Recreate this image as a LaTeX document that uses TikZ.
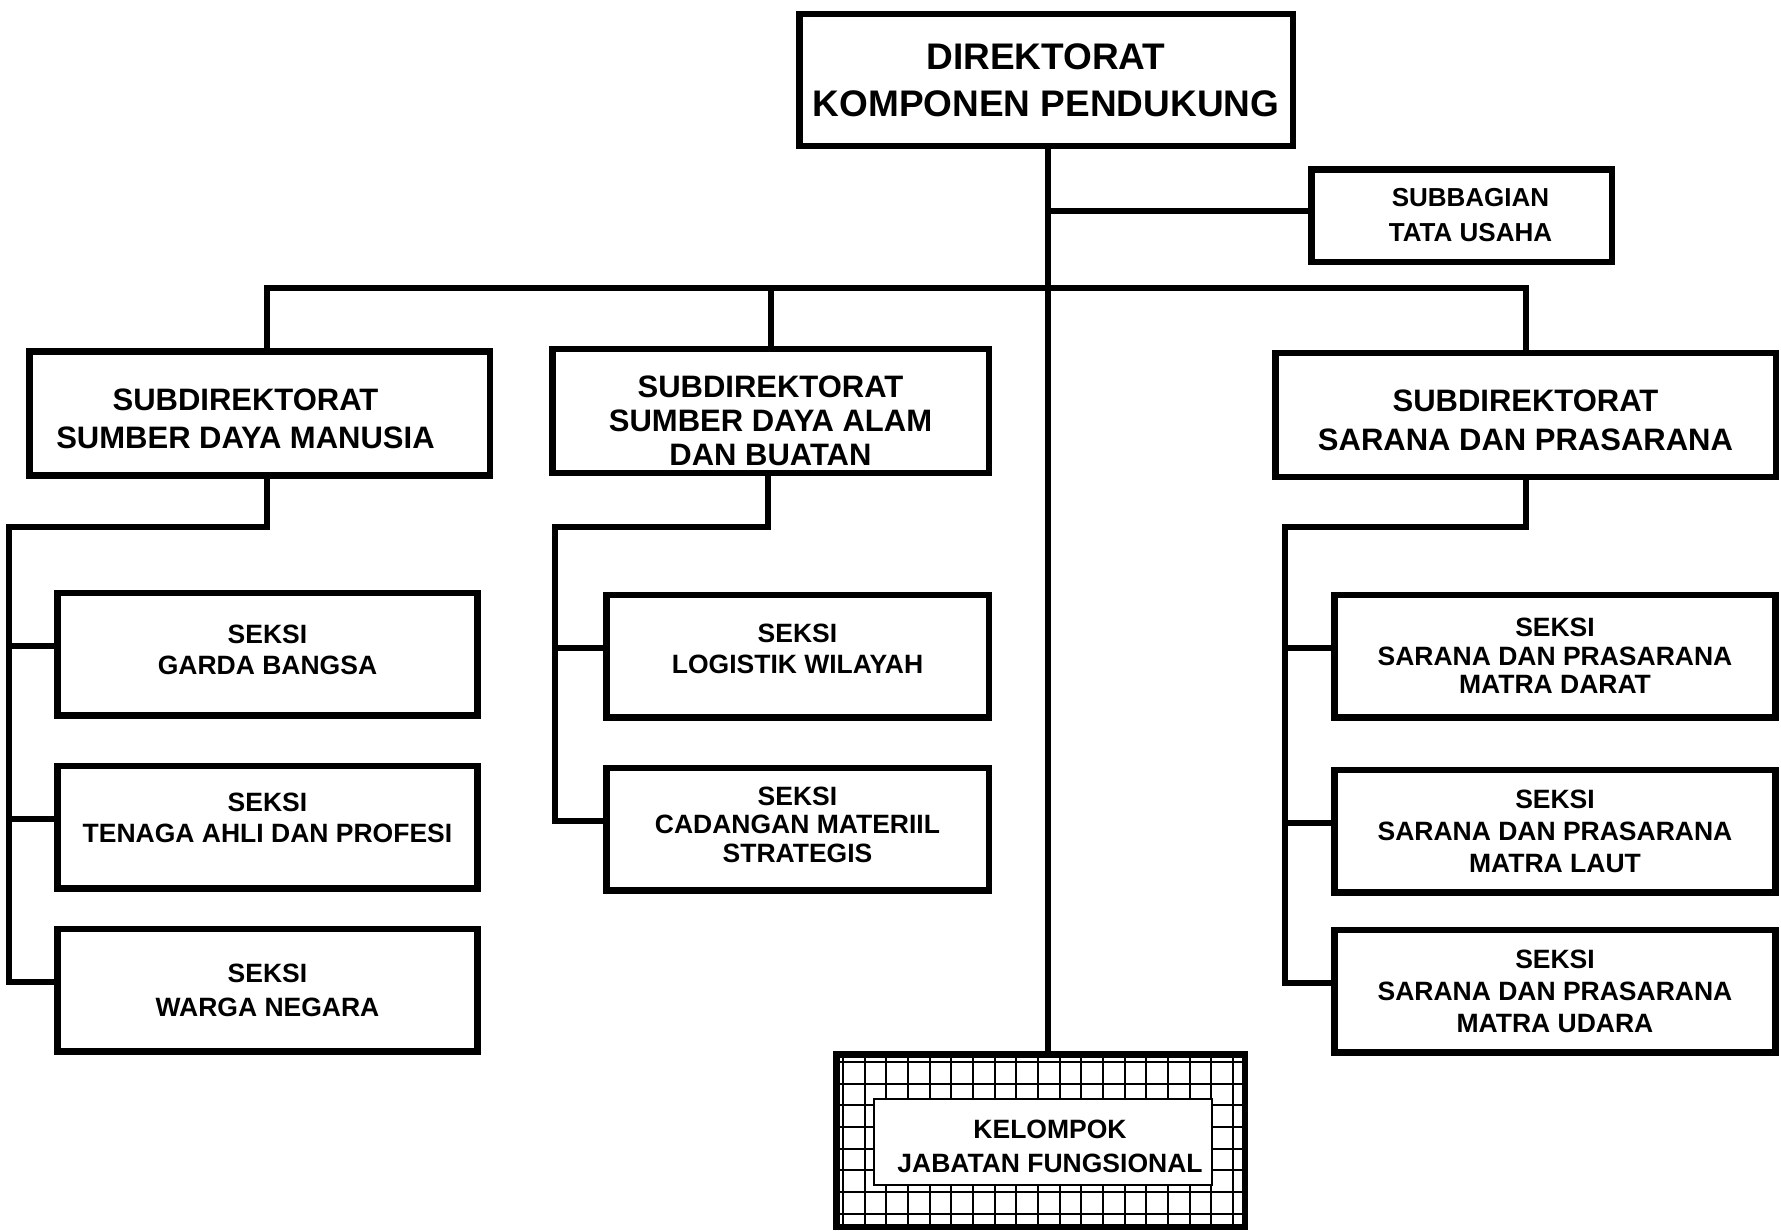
\documentclass[tikz,border=0pt]{standalone}
\usepackage{fontspec}
\setmainfont{Liberation Sans}
\usepackage{tikz}
\usetikzlibrary{positioning, calc}

\newcommand{\padtop}[1]{\rule{0pt}{#1}}
\newcommand{\padbottom}[1]{\rule[-#1]{0pt}{0pt}}

\begin{document}
\begin{tikzpicture}[
  x = 1pt, y = -1pt,
  box/.style = {draw, rectangle, line width=6.5pt, fill=white, inner sep=0pt, align=center},
  topbox/.style = {box, minimum width=493.5pt, minimum height=131.5pt, font=\fontsize{37pt}{47pt}\selectfont\bfseries},
  subbox/.style = {box, minimum height=124pt, font=\fontsize{31pt}{37.5pt}\selectfont\bfseries},
  seksibox/.style = {box, minimum height=122.5pt, font=\fontsize{26.5pt}{31.5pt}\selectfont\bfseries},
  tightbox/.style = {font=\fontsize{26.5pt}{28.5pt}\selectfont\bfseries},
  gridline/.style = {draw, line width=2pt},
  line/.style = {draw, line width=6pt}
  ]
 \useasboundingbox (0,0) rectangle (1781,1231);
 % Direktorat box
 \node[topbox] (direktorat) at (1046,80)
  {DIREKTORAT\\KOMPONEN PENDUKUNG};
 \node[box, minimum width=300.5pt, minimum height=92.5pt, font=\fontsize{26pt}{35pt}\selectfont\bfseries] (tatausaha) at (1461.5,215.5)
  {\hspace*{18pt}SUBBAGIAN\\\hspace*{18pt}TATA USAHA};
 % Subdirektorat boxes
 \node[subbox, minimum width=460.5pt] (sdm) at (259.5,413.5)
  {\padtop{32pt}SUBDIREKTORAT\hspace*{28pt}\\SUMBER DAYA MANUSIA\hspace*{28pt}};
 \node[subbox, minimum width=436.5pt, font=\fontsize{31pt}{34pt}\selectfont\bfseries] (sda) at (770.5,411)
  {\padtop{41pt}SUBDIREKTORAT\\SUMBER DAYA ALAM\\DAN BUATAN};
 \node[subbox, minimum width=500.5pt, font=\fontsize{31pt}{38.5pt}\selectfont\bfseries] (sdp) at (1525.5,415)
  {\padtop{32pt}SUBDIREKTORAT\\SARANA DAN PRASARANA};
 % Seksi boxes, left
 \node[seksibox, minimum width=420pt] (gardabangsa) at (267.5,654)
  {SEKSI\\GARDA BANGSA\padbottom{8.4pt}};
 \node[seksibox, minimum width=420pt] (tenagaahli) at (267.5,827)
  {SEKSI\\TENAGA AHLI DAN PROFESI\padbottom{18.4pt}};
 \node[seksibox, minimum width=420pt, font=\fontsize{26.5pt}{34pt}\selectfont\bfseries] (warganegara) at (267.5,990)
  {SEKSI\\WARGA NEGARA};
 % Seksi boxes, middle
 \node[seksibox, minimum width=382.5pt] (logistik) at (797.5,656)
  {SEKSI\\LOGISTIK WILAYAH\padbottom{14.4pt}};
 \node[seksibox, tightbox, minimum width=382.5pt] (cadangan) at (797.5,829)
  {SEKSI\\CADANGAN MATERIIL\\STRATEGIS\padbottom{9.4pt}};
 % Seksi boxes, right
 \node[seksibox, tightbox, minimum width=441pt] (darat) at (1555,656)
  {SEKSI\\SARANA DAN PRASARANA\\MATRA DARAT};
 \node[seksibox, minimum width=441pt, font=\fontsize{26.5pt}{32pt}\selectfont\bfseries] (laut) at (1555,831)
  {SEKSI\\SARANA DAN PRASARANA\\MATRA LAUT};
 \node[seksibox, minimum width=441pt, font=\fontsize{26.5pt}{32pt}\selectfont\bfseries] (udara) at (1555,991)
  {SEKSI\\SARANA DAN PRASARANA\\MATRA UDARA};
 % Kelompok jabatan fungsional
 \foreach \i in {0,...,18}
  \draw[gridline] (843+\i*21.67,1054) -- (843+\i*21.67,1228);
 \foreach \j in {0,...,7}
  \draw[gridline] (836,1062+\j*21.67) -- (1245,1062+\j*21.67);
 \node[draw, rectangle, line width=6.5pt, minimum width=408.5pt, minimum height=172.5pt] (fungsional) at (1040.5,1140.5) {};
 \node[box, line width=2pt, minimum width=338pt, minimum height=86pt, font=\fontsize{26.5pt}{34pt}\selectfont\bfseries] (kelompok) at (1043,1142)
  {\padtop{28pt}\hspace*{14pt}KELOMPOK\\\hspace*{14pt}JABATAN FUNGSIONAL};
 % Lines
 \coordinate (bus) at (1048,288);
 \coordinate (tu) at (1048,211);
 \coordinate (railL) at (9,527);
 \coordinate (railM) at (555,527);
 \coordinate (railR) at (1285,527);
 \draw[line] (direktorat.south -| bus) -- (fungsional.north -| bus);
 \draw[line] (tu) -- (tu -| tatausaha.west);
 \draw[line] ([xshift=7pt]sdm.north) |- (bus) -| (sdp.north);
 \draw[line] (sda.north) -- (sda.north |- bus);
 \draw[line] ([xshift=7pt]sdm.south) |- (railL) |- ([yshift=8pt]warganegara.west);
 \draw[line] ([yshift=8pt]gardabangsa.west) -- ([yshift=8pt]railL |- gardabangsa.west);
 \draw[line] ([yshift=8pt]tenagaahli.west) -- ([yshift=8pt]railL |- tenagaahli.west);
 \draw[line] ([xshift=-3pt]sda.south) |- (railM) |- ([yshift=8pt]cadangan.west);
 \draw[line] ([yshift=8pt]logistik.west) -- ([yshift=8pt]railM |- logistik.west);
 \draw[line] (sdp.south) |- (railR) |- ([yshift=8pt]udara.west);
 \draw[line] ([yshift=8pt]darat.west) -- ([yshift=8pt]railR |- darat.west);
 \draw[line] ([yshift=8pt]laut.west) -- ([yshift=8pt]railR |- laut.west);
\end{tikzpicture}
\end{document}
